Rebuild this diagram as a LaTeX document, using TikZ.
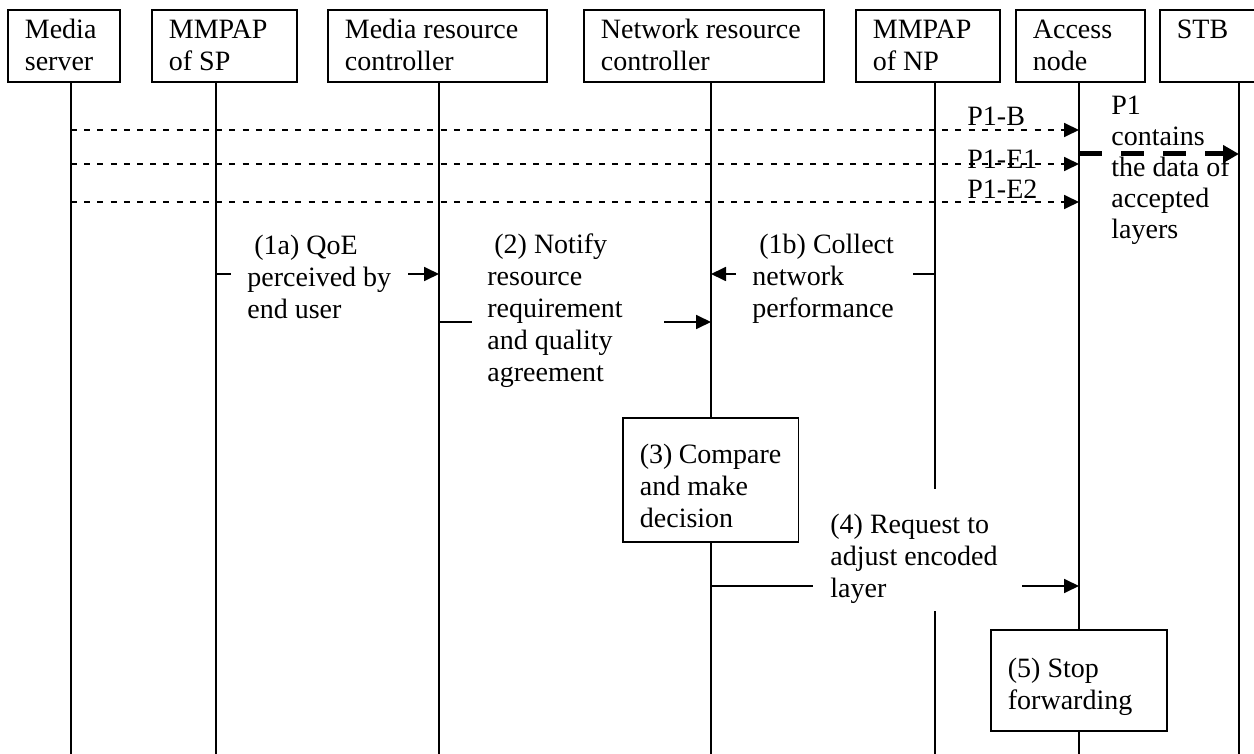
\documentclass[tikz,border=0pt]{standalone}
\usepackage{fontspec}
\setmainfont{Liberation Serif}
\usetikzlibrary{arrows.meta}
\begin{document}
\begin{tikzpicture}[x=0.5pt, y=-0.5pt,
  every node/.style={font=\fontsize{14}{16}\selectfont, inner sep=0pt},
  head/.style={draw, line width=0.9pt, fill=white, anchor=base west, align=flush left,
    inner xsep=8.5pt, inner ysep=0pt, text height=14.5pt, text depth=21.5pt},
  life/.style={line width=0.9pt},
  tipA/.style={-{Triangle[length=7.5pt,width=7pt]}},
  flow/.style={line width=0.9pt, dash pattern=on 3pt off 3.6pt, tipA},
  msg/.style={line width=0.9pt, tipA},
  bigflow/.style={line width=2.5pt, dash pattern=on 11.5pt off 9.5pt,
    -{Triangle[length=8pt,width=8.5pt]}},
  note/.style={fill=white, anchor=base west, align=flush left, inner xsep=8pt, inner ysep=2pt},
  act/.style={draw, line width=0.9pt, fill=white, anchor=base west, align=flush left,
    inner xsep=8.5pt, inner ysep=0pt},
  plabel/.style={anchor=base west, inner sep=0pt},
]
% canvas
\fill[white] (0,0) rectangle (1254,754);
\useasboundingbox (0,0) rectangle (1254,754);
\clip (0,0) rectangle (1254,754);

% lifeline positions (top ends at the header boxes)
\coordinate (L1) at (71,82);
\coordinate (L2) at (216,82);
\coordinate (L3) at (439,82);
\coordinate (L4) at (711,82);
\coordinate (L5) at (935,82);
\coordinate (L6) at (1079,82);
\coordinate (L7) at (1239,82);
\coordinate (bot) at (0,754);

% message levels
\coordinate (yB)  at (0,130);
\coordinate (yE1) at (0,164);
\coordinate (yE2) at (0,202);
\coordinate (yP)  at (0,154);
\coordinate (y1)  at (0,274);
\coordinate (y2)  at (0,322);
\coordinate (y4)  at (0,586);

% lifelines
\foreach \l in {L1,L2,L3,L4,L5,L6,L7}
  \draw[life] (\l) -- (\l |- bot);

% media streams
\draw[flow] (L1 |- yB)  -- (L6 |- yB);
\draw[flow] (L1 |- yE1) -- (L6 |- yE1);
\draw[flow] (L1 |- yE2) -- (L6 |- yE2);
\draw[bigflow] (L6 |- yP) -- (L7 |- yP);

\node[plabel] (pB)  at (967,126) {P1-B};
\node[plabel] (pE1) at (967,169) {P1-E1};
\node[plabel] (pE2) at (967,199) {P1-E2};
\node[plabel, align=flush left, text width=70pt,
  font=\fontsize{14}{15.5}\selectfont] (p1) at (1111,115)
  {P1\\contains\\the data of\\accepted\\layers};

% signalling messages
\draw[msg] (L2 |- y1) -- (L3 |- y1);
\draw[msg] (L3 |- y2) -- (L4 |- y2);
\draw[msg] (L5 |- y1) -- (L4 |- y1);
\draw[msg] (L4 |- y4) -- (L6 |- y4);

\node[note, text width=72.5pt] (n1a) at (231,255)
  {\hspace*{0.25em}(1a)~QoE\\perceived~by\\end~user};
\node[note, text width=81pt, inner xsep=7.5pt] (n2) at (472,254)
  {\hspace*{0.25em}(2)~Notify\\resource\\requirement\\and~quality\\agreement};
\node[note, text width=72.5pt] (n1b) at (736,254)
  {\hspace*{0.25em}(1b)~Collect\\network\\performance};
\node[note, text width=87.5pt, inner xsep=8.5pt, inner ysep=0pt,
  text height=22pt, text depth=39pt] (n4) at (813,533)
  {(4)~Request~to\\adjust~encoded\\layer};

% actions
\node[act, text width=70.75pt, text height=23pt, text depth=39pt] (b3) at (622,464)
  {(3)~Compare\\and~make\\decision};
\node[act, text width=71pt, text height=23.5pt, text depth=27pt] (b5) at (990,677)
  {(5)~Stop\\forwarding};

% entities
\node[head, text width=39pt]    (ms)  at (7,39)    {Media\\server};
\node[head, text width=55.5pt]  (sp)  at (151,39)  {MMPAP\\of~SP};
\node[head, text width=92.5pt]  (mrc) at (327,39)  {Media~resource\\controller};
\node[head, text width=103pt]   (nrc) at (583,39)  {Network~resource\\controller};
\node[head, text width=55pt]    (np)  at (855,39)  {MMPAP\\of~NP};
\node[head, text width=47.5pt]  (an)  at (1015,39) {Access\\node};
\node[head, text width=60pt]    (stb) at (1159,39) {STB};
\end{tikzpicture}
\end{document}
